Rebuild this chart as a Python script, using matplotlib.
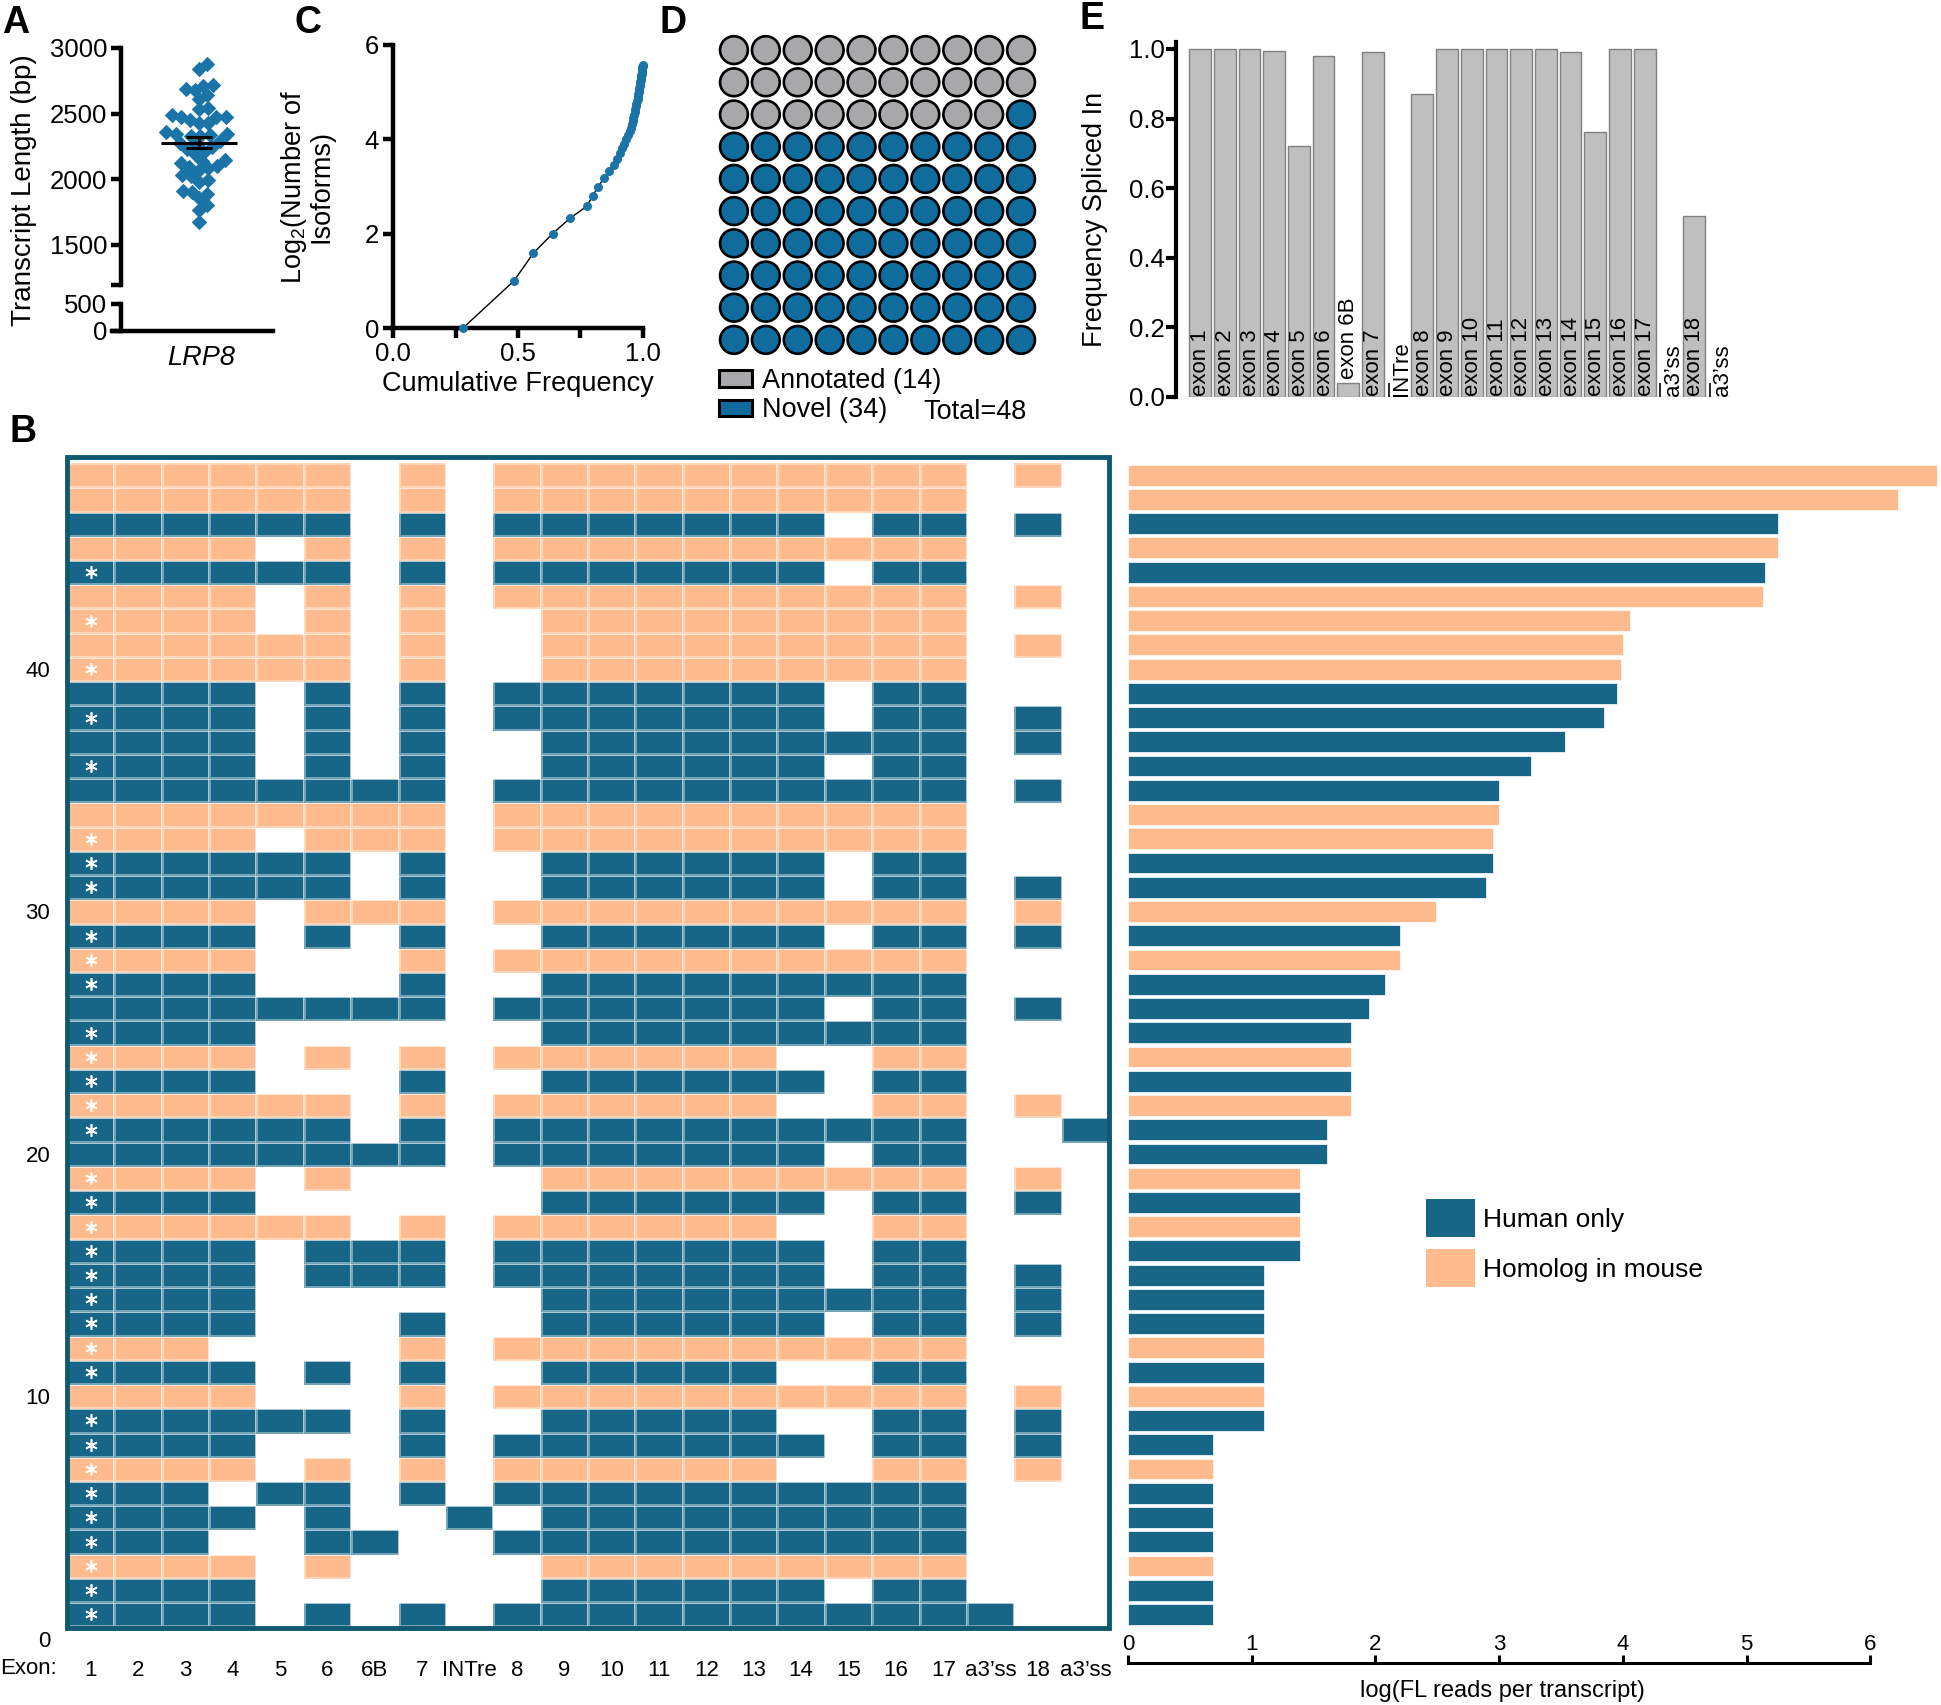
import numpy as np
import matplotlib
matplotlib.use("Agg")
import matplotlib.pyplot as plt
from matplotlib.colors import ListedColormap
from matplotlib.patches import Patch, Rectangle

plt.rcParams['font.family'] = ['Liberation Sans', 'DejaVu Sans']
plt.rcParams['mathtext.fontset'] = 'custom'
plt.rcParams['mathtext.rm'] = 'Liberation Sans'
plt.rcParams['mathtext.default'] = 'regular'

# ---------------- data ----------------
# A: transcript lengths (bp) of the 48 LRP8 isoforms
lengths = [2878, 2840, 2720, 2712, 2677, 2687, 2644, 2611, 2542, 2534, 2473, 2473,
           2473, 2453, 2491, 2427, 2432, 2343, 2364, 2338, 2331, 2343, 2331, 2295,
           2280, 2249, 2229, 2262, 2191, 2211, 2140, 2147, 2122, 2096, 2084, 2102,
           2025, 2071, 2033, 1995, 1982, 1913, 1906, 1888, 1855, 1804, 1766, 1677]

# C: cumulative frequency vs number of isoforms
n_iso = list(range(1, 49))
cum_freq = [0.280, 0.484, 0.561, 0.638, 0.707, 0.776, 0.799, 0.821, 0.843, 0.864,
            0.883, 0.897, 0.908, 0.916, 0.924, 0.932, 0.939, 0.947, 0.951, 0.955,
            0.959, 0.962, 0.965, 0.967, 0.970, 0.972, 0.974, 0.977, 0.979, 0.980,
            0.982, 0.983, 0.985, 0.986, 0.987, 0.989, 0.990, 0.991, 0.992, 0.994,
            0.994, 0.995, 0.996, 0.997, 0.998, 0.998, 0.999, 1.000]

# D: annotated vs novel
n_annot = 14
n_novel = 34

# E: frequency spliced in
e_labels = ['exon 1', 'exon 2', 'exon 3', 'exon 4', 'exon 5', 'exon 6', 'exon 6B',
            'exon 7', 'INTre', 'exon 8', 'exon 9', 'exon 10', 'exon 11', 'exon 12',
            'exon 13', 'exon 14', 'exon 15', 'exon 16', 'exon 17', 'a3\u2019ss',
            'exon 18', 'a3\u2019ss']
psi = [1.0, 1.0, 1.0, 0.995, 0.72, 0.98, 0.04, 0.99, 0.0, 0.87, 1.0, 1.0, 1.0,
       1.0, 1.0, 0.99, 0.76, 1.0, 1.0, 0.0, 0.52, 0.0]

# B: isoform structures, top row (48) -> bottom row (1)
exon_ticks = ['1', '2', '3', '4', '5', '6', '6B', '7', 'INTre', '8', '9', '10', '11',
              '12', '13', '14', '15', '16', '17', 'a3\u2019ss', '18', 'a3\u2019ss']
structures = [
    "1111110101111111111010", "1111110101111111111000", "1111110101111111011010",
    "1111010101111111111000", "1111110101111111011000", "1111010101111111111010",
    "1111010100111111111000", "1111110100111111111010", "1111110100111111111000",
    "1111010101111111011000", "1111010101111111011010", "1111010100111111111010",
    "1111010100111111011000", "1111111101111111111010", "1111111101111111111000",
    "1111011101111111111000", "1111110100111111011000", "1111110100111111011010",
    "1111011101111111111010", "1111010100111111011010", "1111000101111111111000",
    "1111000100111111111000", "1111111101111111011010", "1111000000111111111000",
    "1111010101111110011000", "1111000100111111011000", "1111110101111110011010",
    "1111110101111111111001", "1111111101111111011000", "1111010000111111111010",
    "1111000000111111011010", "1111110101111110011000", "1111011101111111011000",
    "1111011101111111011010", "1111000000111111111010", "1111000100111111011010",
    "1110000101111111111000", "1111010100111110011000", "1111000101111111111010",
    "1111110100111110011010", "1111000101111111011010", "1111010101111110011010",
    "1110110101111111111000", "1111010010111111111000", "1110011001111111111000",
    "1111010000111111111000", "1111000000111111011000", "1111010101111111111100",
]
homolog = "OOBOBOOO" + "OBBBBBOO" + "BBOBOBBB" + "OBOBBOBO" + "BBBBOBOB" + "BOBBBOBB"
novel_flag = "00001010" + "10101001" + "11011101" + "11110111" + "11111101" + "11111111"
log_reads = [6.54, 6.22, 5.25, 5.25, 5.15, 5.13, 4.06, 4.00, 3.98, 3.95, 3.85, 3.53,
             3.26, 3.00, 3.00, 2.95, 2.95, 2.89, 2.49, 2.20, 2.20, 2.08, 1.95, 1.80,
             1.80, 1.80, 1.80, 1.61, 1.61, 1.39, 1.39, 1.39, 1.39, 1.10, 1.10, 1.10,
             1.10, 1.10, 1.10, 1.10, 0.69, 0.69, 0.69, 0.69, 0.69, 0.69, 0.69, 0.69]

BLUE_M = '#186687'
ORANGE = '#FFBB8D'
FRAME = '#0E5872'
DOT_BLUE = '#1B74A8'
D_BLUE = '#0F6C9D'
D_GREY = '#A8A8AA'
E_GREY = '#BFBFBF'

W, H = 1941, 1705
fig = plt.figure(figsize=(W / 100, H / 100), dpi=100)


def add_ax(x0, y0, x1, y1):
    # pixel box (from top-left) -> figure axes
    return fig.add_axes([x0 / W, 1 - y1 / H, (x1 - x0) / W, (y1 - y0) / H])


def ftext(x, y, s, **kw):
    return fig.text(x / W, 1 - y / H, s, **kw)


# panel letters
for lab, (x, y) in {'A': (2, 5), 'C': (294, 5), 'D': (660, 5), 'E': (1079, 1),
                    'B': (9, 414)}.items():
    ftext(x, y, lab, fontsize=27, fontweight='bold', va='top', ha='left')

# ---------------- A ----------------
axA = add_ax(112, 48, 273, 285)
axA2 = add_ax(112, 304, 273, 331)
axA.set_ylim(1195, 3000)
axA2.set_ylim(0, 500)
for a in (axA, axA2):
    a.set_xlim(-1, 1)
    a.set_xticks([])
    a.spines['top'].set_visible(False)
    a.spines['right'].set_visible(False)
    a.spines['left'].set_position(('axes', 9 / 161))
    a.spines['left'].set_linewidth(3.2)
    a.spines['bottom'].set_linewidth(3.2)
    a.tick_params(axis='y', length=7, width=3.2, labelsize=18.5, pad=3)
axA.spines['bottom'].set_visible(False)
axA.set_yticks([1195, 1500, 2000, 2500, 3000], ['', '1500', '2000', '2500', '3000'])
axA2.set_yticks([0, 500], ['0', '500'])

# simple beeswarm layout in pixel units
px_per_bp = 197 / 1500
d = 9.5
ys = np.array(lengths) * px_per_bp
xs = np.zeros(len(ys))
placed = []
for i in np.argsort(ys):
    y = ys[i]
    cands = [0.0]
    for xj, yj in placed:
        dy = abs(y - yj)
        if dy < d:
            dx = np.sqrt(d * d - dy * dy)
            cands += [xj + dx, xj - dx]
    cands.sort(key=abs)
    for c in cands:
        if all((c - xj) ** 2 + (y - yj) ** 2 >= d * d - 1e-6 for xj, yj in placed):
            xs[i] = c
            break
    placed.append((xs[i], y))
center = 0.08
axA.scatter(center + xs / 80.5, lengths, marker='D', s=62, color=DOT_BLUE, lw=0, zorder=2)
mean = np.mean(lengths)
sem = np.std(lengths, ddof=1) / np.sqrt(len(lengths))
axA.hlines(mean, center - 0.47, center + 0.47, color='black', lw=2.2, zorder=3)
axA.errorbar(center, mean, yerr=sem, color='black', capsize=9.5, elinewidth=2.2,
             capthick=2.2, zorder=3)
ftext(201, 358, 'LRP8', fontsize=19.5, style='italic', ha='center', va='center')
ftext(24, 190, 'Transcript Length (bp)', fontsize=20, rotation=90, ha='center', va='center')

# ---------------- C ----------------
axC = add_ax(393, 45, 643, 328)
axC.plot(cum_freq, np.log2(n_iso), color='black', lw=1, zorder=2)
axC.scatter(cum_freq, np.log2(n_iso), s=42, color=DOT_BLUE, lw=0, zorder=3, clip_on=False)
axC.set_xlim(0, 1)
axC.set_ylim(0, 6)
axC.spines['top'].set_visible(False)
axC.spines['right'].set_visible(False)
axC.spines['left'].set_linewidth(3.2)
axC.spines['bottom'].set_linewidth(3.2)
axC.set_xticks([0, 0.5, 1.0], ['0.0', '0.5', '1.0'])
axC.set_xticks([0.25, 0.75], minor=True)
axC.set_yticks([0, 2, 4, 6])
axC.tick_params(which='both', length=7, width=3.2, labelsize=18.5, pad=3)
axC.set_xlabel('Cumulative Frequency', fontsize=19.5, labelpad=4)
axC.set_ylabel('Log$_2$(Number of\nIsoforms)', fontsize=19.5, linespacing=0.95)
axC.yaxis.set_label_coords(-0.235, 0.5)

# ---------------- D ----------------
axD = add_ax(718, 34, 1037, 356)
n_grey = int(round(100 * n_annot / (n_annot + n_novel)))
cols = np.arange(100) % 10
rows = np.arange(100) // 10
colors = [D_GREY if k < n_grey else D_BLUE for k in range(100)]
axD.scatter(cols, rows, s=400, c=colors, edgecolors='black', linewidths=1.9)
axD.set_xlim(-0.5, 9.5)
axD.set_ylim(9.5, -0.5)
axD.axis('off')
hd = [Patch(facecolor=D_GREY, edgecolor='black', lw=2.2),
      Patch(facecolor=D_BLUE, edgecolor='black', lw=2.2)]
axD.legend(hd, ['Annotated (%d)' % n_annot, 'Novel (%d)' % n_novel], frameon=False,
           fontsize=19.5, loc='upper left', bbox_to_anchor=(719 / W, 1 - 368 / H),
           bbox_transform=fig.transFigure, borderpad=0, borderaxespad=0,
           handlelength=1.2, handleheight=0.55, handletextpad=0.4, labelspacing=0.12)
ftext(923, 412, 'Total=%d' % (n_annot + n_novel), fontsize=19.5, ha='left', va='center')

# ---------------- E ----------------
axE = add_ax(1176, 42, 1741, 397)
xe = np.arange(len(psi))
axE.bar(xe, psi, width=0.88, color=E_GREY, edgecolor='#808080', lw=1)
axE.set_xlim(-0.97, 21.9)
axE.set_ylim(0, 1.02)
for s in ['top', 'right', 'bottom']:
    axE.spines[s].set_visible(False)
axE.spines['left'].set_linewidth(3)
axE.set_xticks([])
axE.set_yticks([0, 0.2, 0.4, 0.6, 0.8, 1.0], ['0.0', '0.2', '0.4', '0.6', '0.8', '1.0'])
axE.tick_params(axis='y', length=7, width=3, labelsize=18.5, pad=1)
axE.set_ylabel('Frequency Spliced In', fontsize=19.5)
axE.yaxis.set_label_coords(-0.12, 0.5)
for i, (lab, v) in enumerate(zip(e_labels, psi)):
    if v < 0.02:
        axE.text(i + 0.15, 0.004, lab, rotation=90, ha='center', va='bottom', fontsize=16)
        axE.vlines(i - 0.36, 0, 0.04, color='black', lw=1.2)
    elif v < 0.1:
        axE.text(i + 0.03, v + 0.012, lab, rotation=90, ha='center', va='bottom', fontsize=16)
    else:
        axE.text(i + 0.03, 0.004, lab, rotation=90, ha='center', va='bottom', fontsize=16)

# ---------------- B: structures ----------------
n_rows = len(structures)
row_ids = np.arange(n_rows, 0, -1)
grid = np.zeros((n_rows, len(exon_ticks)))
for r, (s, h) in enumerate(zip(structures, homolog)):
    val = 2 if h == 'O' else 1
    grid[row_ids[r] - 1] = [val * int(ch) for ch in s]

axM = add_ax(67, 457, 1109, 1647)
axM.pcolormesh(np.arange(len(exon_ticks) + 1), np.arange(n_rows + 1) + 0.5, grid,
               cmap=ListedColormap(['white', BLUE_M, ORANGE]), vmin=-0.5, vmax=2.5,
               edgecolors=(1, 1, 1, 0.4), linewidth=0.8)
axM.set_xlim(0, len(exon_ticks))
axM.set_ylim(-0.35, 48.75)
for s in axM.spines.values():
    s.set_visible(False)
axM.add_patch(Rectangle((0, 0.45), len(exon_ticks), 48.3, fill=False, ec=FRAME, lw=3.5,
                        clip_on=False, zorder=5))
star_rows = [row_ids[r] for r, f in enumerate(novel_flag) if f == '1']
axM.plot([0.5] * len(star_rows), star_rows, ls='none', marker=(6, 2, 0), ms=9,
         mew=1.2, color='white', zorder=4)
axM.set_xticks(np.arange(len(exon_ticks)) + 0.5, exon_ticks)
axM.set_yticks([0, 10, 20, 30, 40])
axM.tick_params(axis='both', length=0, labelsize=16)
axM.tick_params(axis='y', pad=12)
axM.tick_params(axis='x', pad=9)
ftext(57, 1668, 'Exon:', fontsize=16, ha='right', va='center')

# ---------------- B: expression bars ----------------
axR = add_ax(1128, 457, 1941, 1663)
bar_cols = [ORANGE if h == 'O' else BLUE_M for h in homolog]
axR.barh(row_ids, log_reads, height=0.86, color=bar_cols, edgecolor='white', lw=0.5)
axR.set_xlim(0, 6.57)
axR.set_ylim(-1.0, 48.75)
for s in ['top', 'right', 'left']:
    axR.spines[s].set_visible(False)
axR.spines['bottom'].set_bounds(0, 6)
axR.spines['bottom'].set_linewidth(2.2)
axR.set_yticks([])
axR.set_xticks(range(7))
axR.tick_params(axis='x', direction='in', length=6, width=2.2, labelsize=16, pad=-21)
axR.set_xlabel('log(FL reads per transcript)', fontsize=17)
axR.xaxis.set_label_coords(0.46, -0.014)
hr = [Patch(facecolor=BLUE_M), Patch(facecolor=ORANGE)]
axR.legend(hr, ['Human only', 'Homolog in mouse'], frameon=False, fontsize=19,
           loc='upper left', bbox_to_anchor=(1426 / W, 1 - 1199 / H),
           bbox_transform=fig.transFigure, borderpad=0, borderaxespad=0,
           handlelength=1.85, handleheight=1.85, handletextpad=0.3, labelspacing=0.45)

fig.savefig('out.png', dpi=100)
